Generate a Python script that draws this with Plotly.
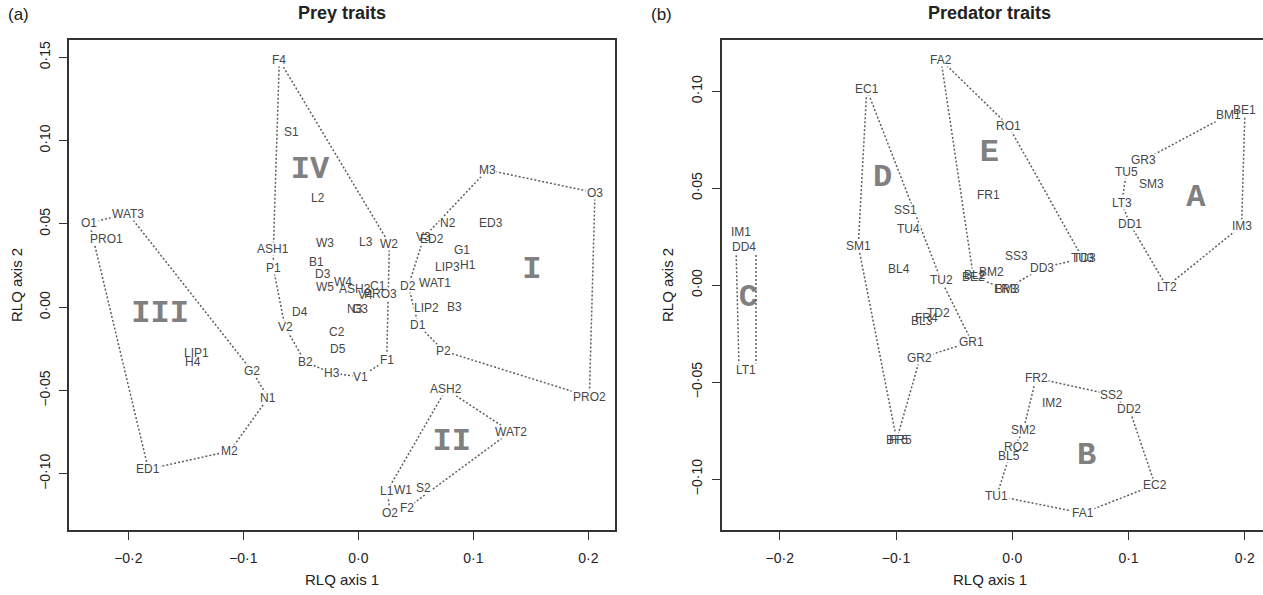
import plotly.graph_objects as go

# ---------------- (a) Prey traits ----------------
prey_labels = ["F4", "S1", "L2", "ASH1", "W3", "L3", "W2", "P1", "B1", "D3", "W4", "W5",
               "ASH3", "C1", "V4", "PRO3", "N3", "G3", "D4", "V2", "C2", "D5", "B2", "H3",
               "V1", "F1",
               "M3", "O3", "N2", "ED3", "V3", "ED2", "G1", "LIP3", "H1", "D2", "WAT1",
               "LIP2", "B3", "D1", "P2", "PRO2",
               "ASH2", "WAT2", "L1", "W1", "S2", "O2", "F2",
               "O1", "WAT3", "PRO1", "LIP1", "H4", "G2", "N1", "M2", "ED1"]
prey_x = [-0.0687, -0.0579, -0.0348, -0.0739, -0.0290, 0.0067, 0.0270, -0.0739, -0.0368,
          -0.0304, -0.0130, -0.0290, -0.0029, 0.0174, 0.0058, 0.0189, -0.0029, 0.0015,
          -0.0507, -0.0637, -0.0183, -0.0174, -0.0463, -0.0231, 0.0023, 0.0247,
          0.1122, 0.2058, 0.0783, 0.1151, 0.0570, 0.0640, 0.0899, 0.0775, 0.0955, 0.0435,
          0.0667, 0.0595, 0.0832, 0.0522, 0.0739, 0.2009,
          0.0763, 0.1325, 0.0252, 0.0391, 0.0565, 0.0276, 0.0421,
          -0.2339, -0.2000, -0.2188, -0.1411, -0.1440, -0.0927, -0.0783, -0.1116, -0.1826]
prey_y = [0.1483, 0.1050, 0.0658, 0.0350, 0.0388, 0.0394, 0.0380, 0.0234, 0.0274,
          0.0198, 0.0154, 0.0124, 0.0108, 0.0128, 0.0074, 0.0080, -0.0012, -0.0012,
          -0.0027, -0.0120, -0.0146, -0.0252, -0.0327, -0.0396, -0.0417, -0.0316,
          0.0824, 0.0688, 0.0505, 0.0508, 0.0420, 0.0410, 0.0344, 0.0244, 0.0254, 0.0128,
          0.0148, -0.0006, 0.0004, -0.0106, -0.0262, -0.0537,
          -0.0492, -0.0747, -0.1101, -0.1097, -0.1083, -0.1237, -0.1207,
          0.0508, 0.0560, 0.0408, -0.0276, -0.0330, -0.0381, -0.0543, -0.0863, -0.0972]
prey_hull_IV = ["F4", "W2", "F1", "V1", "H3", "B2", "V2", "P1", "ASH1"]
prey_hull_I = ["M3", "O3", "PRO2", "P2", "D1", "D2", "V3"]
prey_hull_II = ["ASH2", "WAT2", "F2", "O2", "L1"]
prey_hull_III = ["O1", "WAT3", "G2", "N1", "M2", "ED1"]
prey_group_names = ["I", "II", "III", "IV"]
prey_group_x = [0.1508, 0.0812, -0.1724, -0.0420]
prey_group_y = [0.0224, -0.0807, -0.0042, 0.0824]

# ---------------- (b) Predator traits ----------------
pred_labels = ["BE1", "BM1", "GR3", "TU5", "SM3", "LT3", "DD1", "IM3", "LT2",
               "FR2", "SS2", "DD2", "IM2", "SM2", "RO2", "BL5", "EC2", "TU1", "FA1",
               "IM1", "DD4", "LT1",
               "EC1", "SS1", "TU4", "SM1", "BL4", "TU2", "BL3", "FR4", "TD2", "GR2",
               "GR1", "BF5", "FR5",
               "FA2", "RO1", "FR1", "SS3", "DD3", "TU3", "TD3", "BM2", "BL2", "BE2",
               "BM3", "FR3"]
pred_x = [0.2002, 0.1858, 0.1133, 0.0984, 0.1199, 0.0941, 0.1012, 0.1973, 0.1328,
          0.0204, 0.0855, 0.1007, 0.0339, 0.0095, 0.0032, -0.0026, 0.1228, -0.0134, 0.0606,
          -0.2336, -0.2308, -0.2291,
          -0.1252, -0.0923, -0.0895, -0.1325, -0.0972, -0.0613, -0.0780, -0.0736, -0.0636,
          -0.0794, -0.0349, -0.0995, -0.0965,
          -0.0613, -0.0034, -0.0206, 0.0038, 0.0253, 0.0605, 0.0617, -0.0177, -0.0320,
          -0.0335, -0.0040, -0.0055]
pred_y = [0.0904, 0.0878, 0.0646, 0.0586, 0.0521, 0.0423, 0.0316, 0.0306, -0.0007,
          -0.0479, -0.0565, -0.0639, -0.0608, -0.0749, -0.0835, -0.0883, -0.1029, -0.1086,
          -0.1175,
          0.0276, 0.0199, -0.0437,
          0.1010, 0.0388, 0.0292, 0.0204, 0.0082, 0.0027, -0.0185, -0.0170, -0.0144,
          -0.0376, -0.0291, -0.0797, -0.0797,
          0.1161, 0.0823, 0.0465, 0.0151, 0.0088, 0.0139, 0.0139, 0.0070, 0.0050,
          0.0044, -0.0021, -0.0021]
pred_hull_A = ["BE1", "IM3", "LT2", "DD1", "LT3", "TU5", "GR3", "BM1"]
pred_hull_B = ["FR2", "SS2", "DD2", "EC2", "FA1", "TU1", "BL5", "SM2"]
pred_hull_D = ["EC1", "SM1", "BF5", "GR2", "GR1", "TU2"]
pred_hull_E = ["FA2", "RO1", "TU3", "DD3", "FR3", "BE2"]
# group C outline (its corners sit under the labels)
pred_hull_C_x = [-0.2377, -0.2205, -0.2205, -0.2351]
pred_hull_C_y = [0.0197, 0.0197, -0.0425, -0.0425]
pred_group_names = ["A", "B", "C", "D", "E"]
pred_group_x = [0.1580, 0.0640, -0.2271, -0.1115, -0.0198]
pred_group_y = [0.0448, -0.0883, -0.0067, 0.0552, 0.0680]

# tick values / labels
x_tickvals = [-0.2, -0.1, 0.0, 0.1, 0.2]
x_ticktext = ["\u22120\u00b72", "\u22120\u00b71", "0\u00b70", "0\u00b71", "0\u00b72"]
prey_y_tickvals = [-0.10, -0.05, 0.0, 0.05, 0.10, 0.15]
prey_y_ticktext = ["\u22120\u00b710", "\u22120\u00b705", "0\u00b700", "0\u00b705", "0\u00b710", "0\u00b715"]
pred_y_tickvals = [-0.10, -0.05, 0.0, 0.05, 0.10]
pred_y_ticktext = ["\u22120\u00b710", "\u22120\u00b705", "0\u00b700", "0\u00b705", "0\u00b710"]

W, H = 1263, 595


def px_x(px):
    return px / W


def px_y(py):
    return 1 - py / H


SANS = "Liberation Sans"
LINE_C = "#5e5e5e"
LABEL_C = "#474747"
AX_C = "#333333"
LABEL_SIZE = 12
CHAR_W = {"A": .667, "B": .667, "C": .722, "D": .722, "E": .667, "F": .611, "G": .778,
          "H": .722, "I": .278, "L": .556, "M": .833, "N": .722, "O": .778, "P": .667,
          "R": .722, "S": .667, "T": .611, "U": .722, "V": .667, "W": .944}

fig = go.Figure()


def hull_trace(hx, hy, xa, ya):
    fig.add_trace(go.Scatter(x=list(hx) + [hx[0]], y=list(hy) + [hy[0]], mode="lines",
                             xaxis=xa, yaxis=ya,
                             line=dict(color=LINE_C, width=1.5, dash="2px,2px"),
                             hoverinfo="skip", showlegend=False))


def add_panel(labels, xs, ys, hulls, gnames, gx, gy, xa, ya):
    pos = {lab: (x, y) for lab, x, y in zip(labels, xs, ys)}
    for members in hulls:
        hull_trace([pos[m][0] for m in members], [pos[m][1] for m in members], xa, ya)
    fig.add_trace(go.Scatter(x=gx, y=gy, mode="text", text=gnames, xaxis=xa, yaxis=ya,
                             textfont=dict(family="Liberation Mono", size=32,
                                           color="#808080", weight="bold"),
                             hoverinfo="skip", showlegend=False))


def add_labels(labels, xs, ys, xr, yr):
    # white boxes first (hide the hull lines under the labels), then the texts on top
    for lab, x, y in zip(labels, xs, ys):
        w = LABEL_SIZE * sum(CHAR_W.get(c, 0.556) for c in lab) + 1
        fig.add_annotation(x=x, y=y, xref=xr, yref=yr, text=" ", showarrow=False,
                           width=w, height=12, bgcolor="white", borderpad=0,
                           font=dict(family=SANS, size=LABEL_SIZE))
    for lab, x, y in zip(labels, xs, ys):
        fig.add_annotation(x=x, y=y, xref=xr, yref=yr, text=lab, showarrow=False,
                           borderpad=0,
                           font=dict(family=SANS, size=LABEL_SIZE, color=LABEL_C))


add_panel(prey_labels, prey_x, prey_y,
          [prey_hull_IV, prey_hull_I, prey_hull_II, prey_hull_III],
          prey_group_names, prey_group_x, prey_group_y, "x", "y")
add_panel(pred_labels, pred_x, pred_y,
          [pred_hull_A, pred_hull_B, pred_hull_D, pred_hull_E],
          pred_group_names, pred_group_x, pred_group_y, "x2", "y2")
hull_trace(pred_hull_C_x, pred_hull_C_y, "x2", "y2")
add_labels(prey_labels, prey_x, prey_y, "x", "y")
add_labels(pred_labels, pred_x, pred_y, "x2", "y2")

ydom = [px_y(530), px_y(40)]
common_ax = dict(showgrid=False, zeroline=False, showline=True,
                 linecolor=AX_C, linewidth=1.5, ticks="outside", ticklen=8,
                 tickwidth=1.3, tickcolor=AX_C, automargin=False,
                 tickfont=dict(family=SANS, size=14, color="#222222"))

fig.update_layout(
    width=W, height=H, margin=dict(l=0, r=0, t=0, b=0, autoexpand=False),
    paper_bgcolor="white", plot_bgcolor="white", showlegend=False,
    xaxis=dict(domain=[px_x(69), px_x(615)], range=[-0.2516, 0.2232],
               tickvals=x_tickvals, ticktext=x_ticktext, anchor="y", mirror=True,
               ticklabelstandoff=6, **common_ax),
    yaxis=dict(domain=ydom, range=[-0.1337, 0.1604], tickvals=prey_y_tickvals,
               ticktext=prey_y_ticktext, tickangle=-90, anchor="x", mirror=True,
               ticklabelstandoff=4, **common_ax),
    # right panel runs off the right edge of the page (no right border visible)
    xaxis2=dict(domain=[px_x(721.7), 1.0], range=[-0.25, 0.2157],
                tickvals=x_tickvals, ticktext=x_ticktext, anchor="y2", mirror=True,
                ticklabelstandoff=6, **common_ax),
    yaxis2=dict(domain=ydom, range=[-0.1262, 0.1264], tickvals=pred_y_tickvals,
                ticktext=pred_y_ticktext, tickangle=-90, anchor="x2", mirror=False,
                ticklabelstandoff=4, **common_ax),
)

# titles and axis titles (positions in page pixels)
texts = [
    ("Prey traits", 342, 13, 18, True, 0),
    ("Predator traits", 990, 13, 18, True, 0),
    ("(a)", 18, 14, 17, False, 0),
    ("(b)", 661, 14, 17, False, 0),
    ("RLQ axis 1", 342, 579, 15, False, 0),
    ("RLQ axis 1", 990, 579, 15, False, 0),
    ("RLQ axis 2", 16, 285, 15, False, -90),
    ("RLQ axis 2", 667, 285, 15, False, -90),
]
for t, px, py, sz, bold, ang in texts:
    fig.add_annotation(x=px_x(px), y=px_y(py), xref="paper", yref="paper", text=t,
                       showarrow=False, textangle=ang, xanchor="center", yanchor="middle",
                       font=dict(family=SANS, size=sz, color="#222222",
                                 weight="bold" if bold else "normal"))

# the page's default 8px body margin would shift the figure; remove it
fig.write_html("out.html", config={"displayModeBar": False},
               post_script="document.body.style.margin='0';"
                           "document.body.style.overflow='hidden';")
